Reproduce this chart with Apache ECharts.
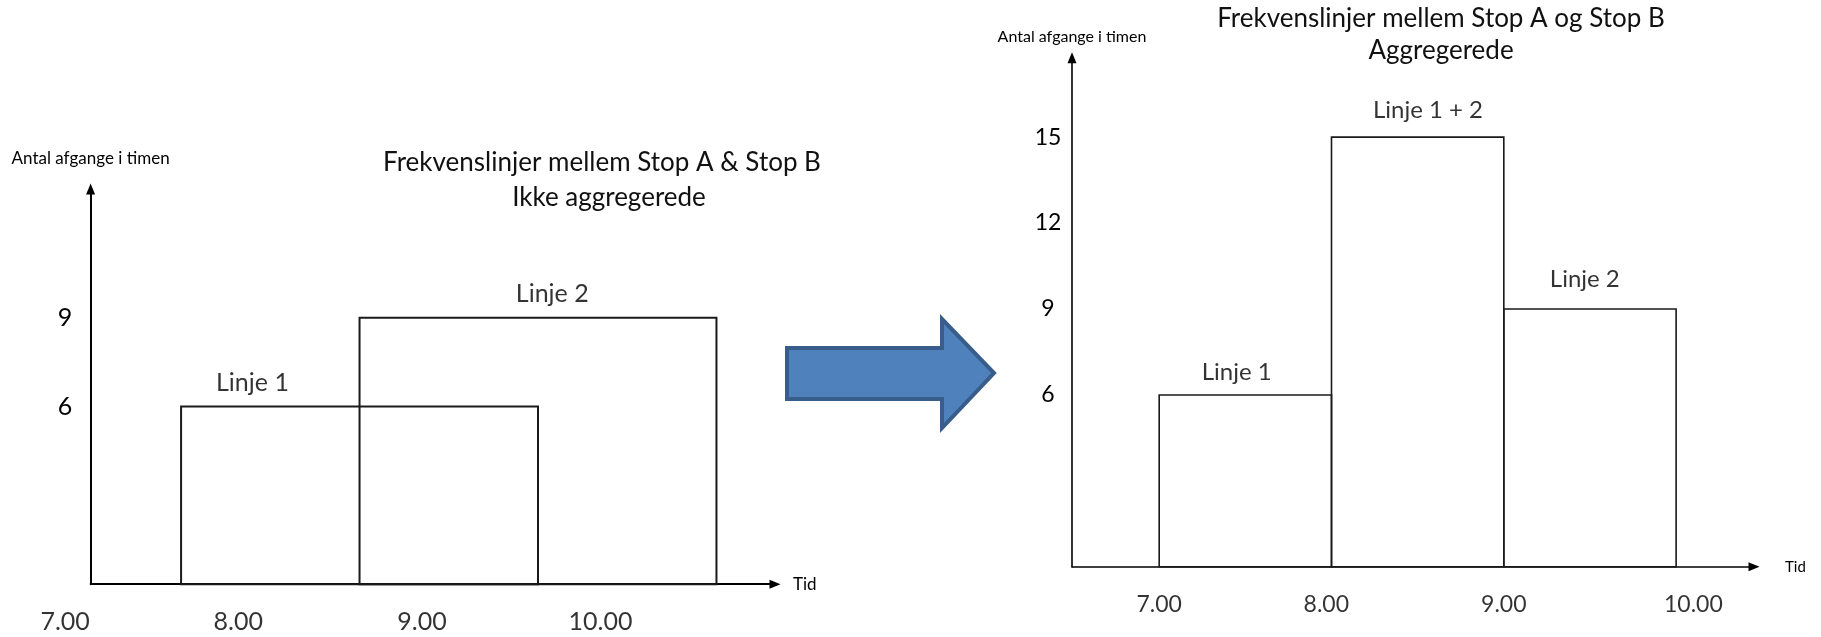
<!DOCTYPE html>
<html>
<head>
<meta charset="utf-8">
<script src="https://cdn.jsdelivr.net/npm/echarts@6/dist/echarts.min.js"></script>
<style>
  html, body { margin: 0; padding: 0; background: #fff; }
  #chart { width: 1821px; height: 637px; }
</style>
</head>
<body>
<div id="chart"></div>
<script>
// ---------- DATA ----------
// Left chart: not aggregated (overlapping service windows)
const leftNames   = ['Linje 1', 'Linje 2'];
const leftStart   = [7.65, 8.65];      // hour where each line starts
const leftEnd     = [9.65, 10.65];     // hour where each line ends
const leftValues  = [6, 9];            // departures per hour
const leftLabelX  = [8.05, 9.73];
const leftLabelY  = [6.8, 9.8];
const leftYTicks  = [6, 9];

// Right chart: aggregated
const rightNames  = ['Linje 1', 'Linje 1 + 2', 'Linje 2'];
const rightStart  = [7, 8, 9];
const rightEnd    = [8, 9, 10];
const rightValues = [6, 15, 9];
const rightLabelX = [7.45, 8.56, 9.47];
const rightLabelY = [6.8, 15.95, 10.05];
const rightYTicks = [6, 9, 12, 15];

// Time tick labels
const timeLabels     = ['7.00', '8.00', '9.00', '10.00'];
const leftTimePos    = [7, 7.97, 9, 10];
const rightTimePos   = [7, 7.97, 9, 10.1];

const yName = 'Antal afgange i timen';
const xName = 'Tid';
const leftTitle1 = 'Frekvenslinjer mellem Stop A & Stop B';
const leftTitle2 = 'Ikke aggregerede';
const rightTitle = 'Frekvenslinjer mellem Stop A og Stop B\nAggregerede';

// ---------- BUILD ----------
const FONT = 'Lato';
const INK = '#000';

function boxSeries(idx, starts, ends, values, names, lw) {
  return {
    type: 'custom',
    xAxisIndex: idx, yAxisIndex: idx,
    clip: false,
    data: starts.map((s, i) => [s, ends[i], values[i], names[i]]),
    renderItem: function (params, api) {
      const p0 = api.coord([api.value(0), api.value(2)]);
      const p1 = api.coord([api.value(1), 0]);
      return {
        type: 'rect',
        shape: { x: p0[0], y: p0[1], width: p1[0] - p0[0], height: p1[1] - p0[1] },
        style: { fill: 'none', stroke: '#1a1a1a', lineWidth: lw }
      };
    }
  };
}

function textSeries(idx, xs, ys, texts, size, offsetY) {
  return {
    type: 'scatter',
    xAxisIndex: idx, yAxisIndex: idx,
    clip: false,
    silent: true,
    symbolSize: 1,
    itemStyle: { color: 'transparent' },
    data: xs.map((x, i) => [x, ys[i], texts[i]]),
    label: {
      show: true,
      position: 'inside',
      offset: [0, offsetY],
      formatter: p => p.data[2],
      fontFamily: FONT, fontSize: size, color: INK
    }
  };
}

function yAxisCfg(idx, max, ticks, nameSize, nameGap, labelSize, margin, lw) {
  return {
    type: 'value', gridIndex: idx, min: 0, max: max, interval: 3,
    name: yName, nameLocation: 'end', nameGap: nameGap,
    nameTextStyle: { fontFamily: FONT, fontSize: nameSize, color: INK, align: 'center', verticalAlign: 'middle' },
    axisLine: { show: true, symbol: ['none', 'triangle'], symbolSize: [9, 11], lineStyle: { color: '#000', width: lw } },
    axisTick: { show: false },
    splitLine: { show: false },
    axisLabel: {
      fontFamily: FONT, fontSize: labelSize, color: INK, margin: margin, align: 'center',
      formatter: v => ticks.indexOf(v) >= 0 ? String(v) : ''
    }
  };
}

function xAxisCfg(idx, min, max, nameSize, nameGap, lw) {
  return {
    type: 'value', gridIndex: idx, min: min, max: max,
    name: xName, nameLocation: 'end', nameGap: nameGap,
    nameTextStyle: { fontFamily: FONT, fontSize: nameSize, color: INK, align: 'left', verticalAlign: 'middle' },
    axisLine: { show: true, symbol: ['none', 'triangle'], symbolSize: [9, 11], lineStyle: { color: '#000', width: lw } },
    axisTick: { show: false },
    splitLine: { show: false },
    axisLabel: { show: false }
  };
}

const zeros = a => a.map(() => 0);
const titleStyle = lh => ({ fontFamily: FONT, fontSize: 26, fontWeight: 'normal', color: '#111', lineHeight: lh });

const option = {
  backgroundColor: '#fff',
  animation: false,
  title: [
    { text: leftTitle1, left: 602, top: 145, padding: 0, textAlign: 'center', textStyle: titleStyle(35) },
    { text: leftTitle2, left: 609, top: 180, padding: 0, textAlign: 'center', textStyle: titleStyle(35) },
    { text: rightTitle, left: 1441, top: 2, padding: 0, textAlign: 'center', textStyle: titleStyle(32.5) }
  ],
  grid: [
    { left: 90.6, top: 189, width: 684.4, height: 395.2 },
    { left: 1072, top: 57.8, width: 682, height: 509 }
  ],
  xAxis: [
    xAxisCfg(0, 7.143, 10.978, 17, 18, 2),
    xAxisCfg(1, 6.494, 10.452, 15, 31, 1.6)
  ],
  yAxis: [
    yAxisCfg(0, 13.35, leftYTicks, 17, 30, 25, 25.6, 2),
    yAxisCfg(1, 17.77, rightYTicks, 16, 20.6, 23, 24, 1.6)
  ],
  graphic: [{
    type: 'polygon',
    shape: { points: [[787, 348], [942, 348], [942, 319], [994, 373], [942, 428], [942, 399], [787, 399]] },
    style: { fill: '#4F81BD', stroke: '#385D8A', lineWidth: 4, lineJoin: 'miter' }
  }],
  series: [
    boxSeries(0, leftStart, leftEnd, leftValues, leftNames, 2),
    boxSeries(1, rightStart, rightEnd, rightValues, rightNames, 1.6),
    textSeries(0, leftLabelX, leftLabelY, leftNames, 25, 0),
    textSeries(1, rightLabelX, rightLabelY, rightNames, 24, 0),
    textSeries(0, leftTimePos, zeros(leftTimePos), timeLabels, 25, 38),
    textSeries(1, rightTimePos, zeros(rightTimePos), timeLabels, 23, 38)
  ]
};

const chart = echarts.init(document.getElementById('chart'), null, { renderer: 'canvas' });
chart.setOption(option);
</script>
</body>
</html>
